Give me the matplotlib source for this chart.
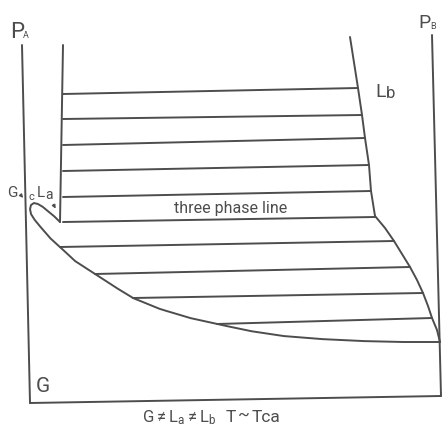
import numpy as np
import matplotlib
matplotlib.use("Agg")
import matplotlib.pyplot as plt

INK = "#4d4d4d"
FONT = ["Roboto", "DejaVu Sans"]
plt.rcParams["mathtext.fontset"] = "custom"
plt.rcParams["mathtext.rm"] = "Roboto"
plt.rcParams["mathtext.it"] = "Roboto"

# Frame of the diagram: pure-A pressure axis, pure-B pressure axis, temperature base
axis_a_x, axis_a_y = [22, 30], [45, 403]
axis_b_x, axis_b_y = [432, 441], [35, 396]
base_x, base_y = [30, 441], [403, 396]

# Liquid La boundary (left) and liquid Lb boundary (right) above the three phase line
la_x = [63, 60]
la_y = [45, 222]
lb_x = [350, 358, 362, 365, 369, 371, 375]
lb_y = [37, 88, 115, 138, 165, 191, 216]

# Gas/La critical loop and its lower branch down to pure B
loop_x = [60, 55, 49, 43, 38, 34, 31, 30, 31, 34, 38, 44, 50, 60, 75, 95, 115, 133,
          160, 190, 217, 250, 283, 320, 360, 400, 440]
loop_y = [222, 217, 212, 207, 204, 203, 205, 209, 214, 219, 224, 231, 238, 247, 261,
          274, 287, 298, 309, 318, 324, 331, 336, 339, 341, 342, 342]

# Gas/Lb boundary below the three phase line
gb_x = [375, 385, 394, 402, 410, 417, 423, 428, 432, 437, 440]
gb_y = [216, 228, 241, 254, 267, 280, 293, 306, 318, 330, 342]

# Tie lines (left end level, right end level)
upper_left = [94, 119, 145, 171, 197, 222]
upper_right = [88, 115, 138, 165, 191, 217]
lower_left = [247, 274, 298, 324]
lower_right = [241, 267, 293, 318]

fig = plt.figure(figsize=(4.43, 4.30), dpi=100)
ax = fig.add_axes([0, 0, 1, 1])
ax.set_xlim(0, 443)
ax.set_ylim(430, 0)
ax.axis("off")

kw = dict(color=INK, lw=1.4, solid_capstyle="round", solid_joinstyle="round")
for xs, ys in [(axis_a_x, axis_a_y), (axis_b_x, axis_b_y), (base_x, base_y),
               (la_x, la_y), (lb_x, lb_y), (gb_x, gb_y)]:
    ax.plot(xs, ys, **kw)

# smooth the loop
t = np.arange(len(loop_x))
tt = np.linspace(0, len(loop_x) - 1, 400)
ax.plot(np.interp(tt, t, loop_x), np.interp(tt, t, loop_y), **kw)

# upper tie lines between La and Lb
for yl, yr in zip(upper_left, upper_right):
    xl = np.interp(yl, la_y[::-1], la_x[::-1])
    xr = np.interp(yr, lb_y, lb_x)
    ax.plot([xl, xr], [yl, yr], **kw)

# lower tie lines between the loop branch and the Gb boundary
branch = slice(13, None)
for yl, yr in zip(lower_left, lower_right):
    xl = np.interp(yl, loop_y[branch], loop_x[branch])
    xr = np.interp(yr, gb_y, gb_x)
    ax.plot([xl, xr], [yl, yr], **kw)

txt = dict(color=INK, family=FONT, ha="left", va="baseline")
ax.text(10, 38, "P", fontsize=16, **txt)
ax.text(23, 38, "A", fontsize=6.5, **txt)
ax.text(418, 28, "P", fontsize=14, **txt)
ax.text(430, 29, "B", fontsize=6.5, **txt)
ax.text(375, 97, "L", fontsize=14, **txt)
ax.text(386, 98, "b", fontsize=12, **txt)
ax.text(7, 197, "G", fontsize=11, **txt)
ax.text(29, 200, "c", fontsize=8, **txt)
ax.text(37, 197, "L", fontsize=11, **txt)
ax.text(45, 199, "a", fontsize=10, **txt)
ax.text(36, 392, "G", fontsize=15, **txt)
ax.text(231, 213, "three phase line", fontsize=11.5, color=INK, family=FONT,
        ha="center", va="baseline")
ax.text(142, 422, r"G$\neq$L$_{\mathrm{a}}$$\neq$L$_{\mathrm{b}}$", fontsize=12, **txt)
ax.text(226, 422, "T", fontsize=12.5, **txt)
ax.text(238, 420, "~", fontsize=12.5, **txt)
ax.text(252, 422, "Tca", fontsize=12.5, **txt)

arrow = dict(arrowstyle="-|>", color=INK, lw=0.9, mutation_scale=5)
ax.annotate("", xy=(25, 200), xytext=(19, 193), arrowprops=arrow)
ax.annotate("", xy=(57, 211), xytext=(52, 202), arrowprops=arrow)

fig.savefig("out.png", dpi=100)
